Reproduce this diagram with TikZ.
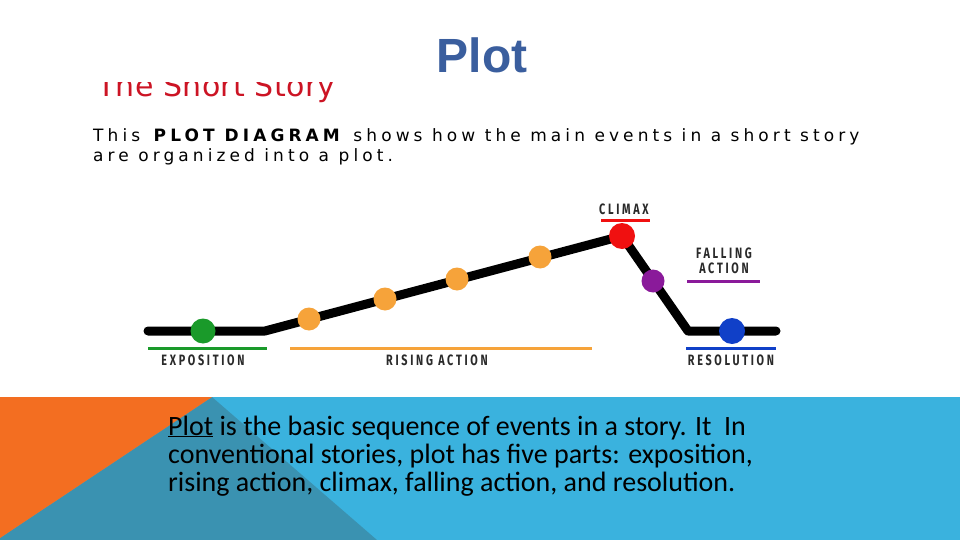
\documentclass[tikz,border=0pt]{standalone}
\usepackage{fontspec}
\setmainfont{Carlito}
\newfontfamily\titlefont{Liberation Sans}
\newfontfamily\verdfont[LetterSpace=24]{DejaVu Sans}
\newfontfamily\headfont[LetterSpace=1]{DejaVu Sans}
\newfontfamily\lblfont[FakeStretch=0.72,LetterSpace=18]{Fira Sans}
\definecolor{bandblue}{HTML}{3AB2DE}
\definecolor{bandteal}{HTML}{3A92B1}
\definecolor{bandorange}{HTML}{F36E21}
\definecolor{titleblue}{HTML}{3A5E9E}
\definecolor{redhead}{HTML}{CC1424}
\definecolor{dotgreen}{HTML}{1A9A2A}
\definecolor{dotorange}{HTML}{F6A33A}
\definecolor{dotred}{HTML}{F01010}
\definecolor{dotpurple}{HTML}{8A1A9A}
\definecolor{dotblue}{HTML}{1040C8}
\definecolor{lblgray}{HTML}{2A2A2A}
\tikzset{
  dot/.style={circle,inner sep=0pt,minimum size=#1},
  lbl/.style={font=\lblfont\bfseries\fontsize{15}{16}\selectfont,text=lblgray,inner sep=0pt},
  uline/.style={line width=3pt},
}
\begin{document}
\begin{tikzpicture}[x=1pt,y=-1pt]
\useasboundingbox (0,0) rectangle (960,540);
\fill[white] (0,0) rectangle (960,540);
% bottom band
\fill[bandblue] (0,397) rectangle (960,540);
\fill[bandteal] (0,540) -- (0,538) -- (212,397) -- (377,540) -- cycle;
\fill[bandorange] (0,397) -- (212,397) -- (0,538) -- cycle;
% title
\node[anchor=base,font=\titlefont\bfseries\fontsize{48}{50}\selectfont,text=titleblue,inner sep=0pt] (title) at (482,73) {Plot};
% clipped header
\begin{scope}
\clip (80,83) rectangle (400,110);
\node[anchor=base west,font=\headfont\fontsize{30}{32}\selectfont,text=redhead,inner sep=0pt] (story) at (97,97) {The Short Story};
\end{scope}
\node[anchor=base west,font=\verdfont\fontsize{17}{20}\selectfont,align=left,inner sep=0pt] (intro) at (93,161)
  {This \textbf{PLOT DIAGRAM} shows how the main events in a short story\\are organized into a plot.};
% plot line
\coordinate (p0) at (148,331);
\coordinate (p1) at (265,331);
\coordinate (p6) at (622,236);
\coordinate (p8) at (688,331);
\coordinate (p9) at (776,331);
\draw[line width=9pt,line cap=round,line join=round] (p0) -- (p1) -- (p6) -- (p8) -- (p9);
\node[dot=25pt,fill=dotgreen] (expo) at (203,331) {};
\node[dot=23pt,fill=dotorange] (r1) at (309,319) {};
\node[dot=23pt,fill=dotorange] (r2) at (385,299) {};
\node[dot=23pt,fill=dotorange] (r3) at (457,279) {};
\node[dot=23pt,fill=dotorange] (r4) at (540,257) {};
\node[dot=26pt,fill=dotred] (clim) at (622,236) {};
\node[dot=23pt,fill=dotpurple] (fall) at (653,281) {};
\node[dot=26pt,fill=dotblue] (reso) at (732,331) {};
% underlines
\draw[uline,dotgreen] (148,348) -- (267,348);
\draw[uline,dotorange] (290,348) -- (592,348);
\draw[uline,dotblue] (686,348) -- (776,348);
\draw[uline,dotred] (601,220) -- (650,220);
\draw[uline,dotpurple] (687,281) -- (760,281);
% labels
\node[lbl] (lexpo) at (203,360) {EXPOSITION};
\node[lbl] (lrise) at (437,360) {RISING ACTION};
\node[lbl] (lreso) at (731,360) {RESOLUTION};
\node[lbl] (lclim) at (624,209) {CLIMAX};
\node[lbl,align=center,font=\lblfont\bfseries\fontsize{15}{15.5}\selectfont] (lfall) at (724,261) {FALLING\\ACTION};
% body text
\node[anchor=base west,align=left,inner sep=0pt,font=\fontsize{28}{28}\selectfont] (body) at (168,491)
  {\underline{Plot} is the basic sequence of events in a story. It\ \ In\\conventional stories, plot has five parts: exposition,\\rising action, climax, falling action, and resolution.};
\end{tikzpicture}
\end{document}
